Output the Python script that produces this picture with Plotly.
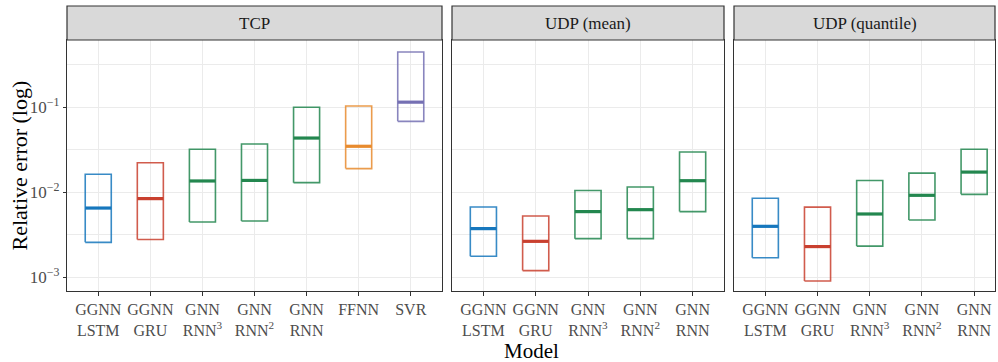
import math
import plotly.graph_objects as go

W, H = 998, 362
FONT = "Liberation Serif"

# --- data -------------------------------------------------------------
tcp_labels = ["GGNN<br>LSTM", "GGNN<br>GRU", "GNN<br>RNN<sup>3</sup>", "GNN<br>RNN<sup>2</sup>",
              "GNN<br>RNN", "FFNN", "SVR"]
tcp_low = [0.00258, 0.00278, 0.00448, 0.0046, 0.0130, 0.0190, 0.0684]
tcp_mid = [0.00653, 0.00843, 0.0136, 0.0138, 0.0435, 0.0348, 0.115]
tcp_high = [0.0163, 0.0223, 0.0321, 0.0370, 0.100, 0.1036, 0.448]

udp_labels = ["GGNN<br>LSTM", "GGNN<br>GRU", "GNN<br>RNN<sup>3</sup>", "GNN<br>RNN<sup>2</sup>",
              "GNN<br>RNN"]
udp_mean_low = [0.00177, 0.00120, 0.00285, 0.00285, 0.00593]
udp_mean_mid = [0.00374, 0.00265, 0.00593, 0.00625, 0.0137]
udp_mean_high = [0.00671, 0.00526, 0.0105, 0.01156, 0.0298]

udp_q_low = [0.00170, 0.000905, 0.00233, 0.00473, 0.00946]
udp_q_mid = [0.00398, 0.00230, 0.00556, 0.00922, 0.0173]
udp_q_high = [0.00850, 0.00670, 0.0138, 0.0168, 0.0321]

y_tick_vals = [1e-3, 1e-2, 1e-1]
y_tick_text = ["10<sup>−3</sup>", "10<sup>−2</sup>", "10<sup>−1</sup>"]

BLUE, RED, GREEN, ORANGE, PURPLE = "#1677bd", "#c9402f", "#23874f", "#e88b2e", "#7570b3"
tcp_colors = [BLUE, RED, GREEN, GREEN, GREEN, ORANGE, PURPLE]
udp_colors = [BLUE, RED, GREEN, GREEN, GREEN]

panels = [
    dict(title="TCP", labels=tcp_labels, low=tcp_low, mid=tcp_mid, high=tcp_high,
         colors=tcp_colors, px=(67, 442), xmax=6.6),
    dict(title="UDP (mean)", labels=udp_labels, low=udp_mean_low, mid=udp_mean_mid,
         high=udp_mean_high, colors=udp_colors, px=(452, 724), xmax=4.6),
    dict(title="UDP (quantile)", labels=udp_labels, low=udp_q_low, mid=udp_q_mid,
         high=udp_q_high, colors=udp_colors, px=(734, 995), xmax=4.4),
]

# --- layout geometry ----------------------------------------------------
panel_top, panel_bottom = 40, 291          # pixel rows of the plotting area
strip_top = 6
y_range = [-3.161, -0.208]                  # log10 limits
half = 0.25                                 # crossbar half width (category units)

fig = go.Figure()
shapes, annotations = [], []
layout = dict(
    width=W, height=H, margin=dict(l=0, r=0, t=0, b=0),
    paper_bgcolor="white", plot_bgcolor="white", showlegend=False,
    font=dict(family=FONT, color="#4d4d4d"),
)

ydom = [(H - panel_bottom) / H, (H - panel_top) / H]

for k, p in enumerate(panels, start=1):
    xs = "" if k == 1 else str(k)
    l, r = p["px"]
    n = len(p["labels"])
    layout["xaxis" + xs] = dict(
        domain=[l / W, r / W], range=[-0.6, p["xmax"]], anchor="y" + xs,
        tickmode="array", tickvals=list(range(n)), ticktext=p["labels"],
        showgrid=True, gridcolor="#ebebeb", gridwidth=1, zeroline=False,
        ticks="outside", ticklen=4, tickcolor="#333333", tickwidth=1,
        showline=True, mirror=True, linecolor="#333333", linewidth=1.2,
        tickfont=dict(family=FONT, size=16, color="#4d4d4d"), fixedrange=True,
    )
    layout["yaxis" + xs] = dict(
        domain=ydom, type="log", range=y_range, anchor="x" + xs,
        tickmode="array", tickvals=y_tick_vals, ticktext=y_tick_text,
        showticklabels=(k == 1), ticks="outside" if k == 1 else "",
        ticklen=3, tickcolor="#333333", tickwidth=1,
        showgrid=True, gridcolor="#ebebeb", gridwidth=1, zeroline=False,
        minor=dict(tickvals=[10 ** -2.5, 10 ** -1.5, 10 ** -0.5], showgrid=True,
                   gridcolor="#ebebeb", gridwidth=0.6, ticklen=0),
        showline=True, mirror=True, linecolor="#333333", linewidth=1.2,
        tickfont=dict(family=FONT, size=17, color="#4d4d4d"), fixedrange=True,
    )

    # crossbars: box from low to high, thick line at the middle value
    for i in range(n):
        c = p["colors"][i]
        lo, mid, hi = p["low"][i], p["mid"][i], p["high"][i]
        fig.add_trace(go.Scatter(
            x=[i - half, i + half, i + half, i - half, i - half],
            y=[lo, lo, hi, hi, lo], mode="lines",
            line=dict(color=c, width=1.6), opacity=0.85, hoverinfo="skip",
            xaxis="x" + xs, yaxis="y" + xs))
        fig.add_trace(go.Scatter(
            x=[i - half, i + half], y=[mid, mid], mode="lines",
            line=dict(color=c, width=3.2), hoverinfo="skip",
            xaxis="x" + xs, yaxis="y" + xs))

    # log ticks along the inside of the left border
    width_px = r - l
    for e in range(-4, 0):
        for m in range(1, 10):
            v = m * 10 ** e
            lv = math.log10(v)
            if not (y_range[0] <= lv <= y_range[1]):
                continue
            ln = 14 if m == 1 else (10 if m == 5 else 5)
            shapes.append(dict(
                type="line", xref="x" + xs + " domain", yref="y" + xs,
                x0=0, x1=ln / width_px, y0=lv, y1=lv,
                line=dict(color="#aaaaaa", width=1), layer="above"))

    # facet strip
    shapes.append(dict(
        type="rect", xref="paper", yref="paper",
        x0=l / W, x1=r / W, y0=(H - panel_top) / H, y1=(H - strip_top) / H,
        fillcolor="#d9d9d9", line=dict(color="#333333", width=1.2), layer="above"))
    annotations.append(dict(
        text=p["title"], xref="paper", yref="paper",
        x=(l + r) / 2 / W, y=(H - (panel_top + strip_top) / 2) / H,
        showarrow=False, xanchor="center", yanchor="middle",
        font=dict(family=FONT, size=17, color="#1a1a1a")))

# axis titles
annotations.append(dict(
    text="Model", xref="paper", yref="paper", x=(67 + 995) / 2 / W, y=(H - 351) / H,
    showarrow=False, xanchor="center", yanchor="middle",
    font=dict(family=FONT, size=21, color="#000000")))
annotations.append(dict(
    text="Relative error (log)", xref="paper", yref="paper", x=19 / W,
    y=(H - (panel_top + panel_bottom) / 2) / H, textangle=-90,
    showarrow=False, xanchor="center", yanchor="middle",
    font=dict(family=FONT, size=22, color="#000000")))

layout["shapes"] = shapes
layout["annotations"] = annotations
fig.update_layout(**layout)
fig.write_html("out.html")
